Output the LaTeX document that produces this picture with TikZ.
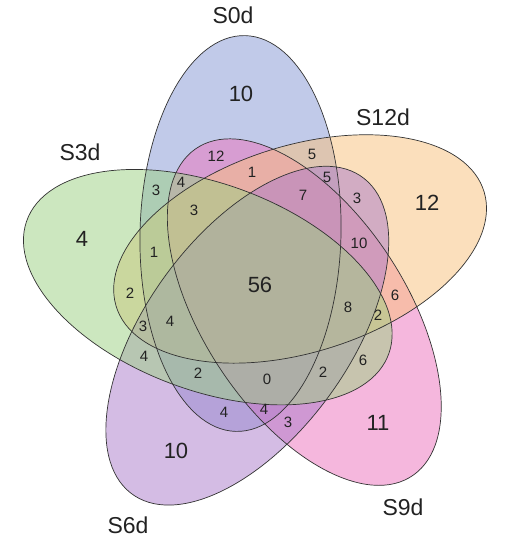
\documentclass[tikz,border=0pt]{standalone}
\usepackage{fontspec}
\setmainfont{Liberation Sans}
\definecolor{cblue}{RGB}{133,151,213}
\definecolor{corange}{RGB}{249,193,123}
\definecolor{cpink}{RGB}{237,113,189}
\definecolor{cpurple}{RGB}{171,123,203}
\definecolor{cgreen}{RGB}{155,209,129}
\definecolor{ctext}{RGB}{34,34,34}
\begin{document}
\begin{tikzpicture}[x=1pt,y=-1pt,
  setfill/.style={fill=#1, fill opacity=0.5},
  setline/.style={draw=black!80, line width=0.7pt},
  sm/.style={text=ctext, font=\fontsize{15}{15}\selectfont, inner sep=0pt},
  big/.style={text=ctext, font=\fontsize{22}{22}\selectfont, inner sep=0pt},
  setname/.style={text=ctext, font=\fontsize{23}{23}\selectfont, inner sep=0pt}]
\useasboundingbox (0,0) rectangle (522,541);
\fill[white] (0,0) rectangle (522,541);
\begin{scope}[yscale=1.03]
  % fills
  \begin{scope}[shift={(240.5,226.7)}, rotate=88.6]
    \fill[setfill=cblue] (0,0) ellipse [x radius=192.2, y radius=100.5];
  \end{scope}
  \begin{scope}[shift={(304.3,303.0)}, rotate=-55.4]
    \fill[setfill=cpink] (0,0) ellipse [x radius=192.2, y radius=100.5];
  \end{scope}
  \begin{scope}[shift={(300.1,241.7)}, rotate=16.6]
    \fill[setfill=corange] (0,0) ellipse [x radius=192.2, y radius=100.5];
  \end{scope}
  \begin{scope}[shift={(247.3,325.9)}, rotate=52.6]
    \fill[setfill=cpurple] (0,0) ellipse [x radius=192.2, y radius=100.5];
  \end{scope}
  \begin{scope}[shift={(207.8,278.8)}, rotate=160.6]
    \fill[setfill=cgreen] (0,0) ellipse [x radius=192.2, y radius=100.5];
  \end{scope}
  % outlines
  \begin{scope}[shift={(240.5,226.7)}, rotate=88.6]
    \draw[setline] (0,0) ellipse [x radius=192.2, y radius=100.5];
  \end{scope}
  \begin{scope}[shift={(304.3,303.0)}, rotate=-55.4]
    \draw[setline] (0,0) ellipse [x radius=192.2, y radius=100.5];
  \end{scope}
  \begin{scope}[shift={(300.1,241.7)}, rotate=16.6]
    \draw[setline] (0,0) ellipse [x radius=192.2, y radius=100.5];
  \end{scope}
  \begin{scope}[shift={(247.3,325.9)}, rotate=52.6]
    \draw[setline] (0,0) ellipse [x radius=192.2, y radius=100.5];
  \end{scope}
  \begin{scope}[shift={(207.8,278.8)}, rotate=160.6]
    \draw[setline] (0,0) ellipse [x radius=192.2, y radius=100.5];
  \end{scope}
\end{scope}
% set names
\node[setname] (nS0) at (233,15) {S0d};
\node[setname] (nS12) at (383,117) {S12d};
\node[setname] (nS9) at (403,507) {S9d};
\node[setname] (nS6) at (128,525) {S6d};
\node[setname] (nS3) at (80,152) {S3d};
% outer counts
\node[big] (b0) at (241,94) {10};
\node[big] (b12) at (427,203) {12};
\node[big] (b9) at (378,423) {11};
\node[big] (b6) at (176,451) {10};
\node[big] (b3) at (82,239) {4};
\node[big] (c56) at (260,285) {56};
% inner counts
\node[sm] (r01) at (216,156) {12};
\node[sm] (r02) at (252,172) {1};
\node[sm] (r03) at (156,190) {3};
\node[sm] (r04) at (181,182) {4};
\node[sm] (r05) at (194,210) {3};
\node[sm] (r06) at (154,252) {1};
\node[sm] (r07) at (312,154) {5};
\node[sm] (r08) at (327,177) {5};
\node[sm] (r09) at (303,195) {7};
\node[sm] (r10) at (357,198) {3};
\node[sm] (r11) at (359,243) {10};
\node[sm] (r12) at (395,295) {6};
\node[sm] (r13) at (348,307) {8};
\node[sm] (r14) at (378,315) {2};
\node[sm] (r15) at (130,293) {2};
\node[sm] (r16) at (143,326) {3};
\node[sm] (r17) at (170,321) {4};
\node[sm] (r18) at (144,356) {4};
\node[sm] (r19) at (198,373) {2};
\node[sm] (r20) at (267,379) {0};
\node[sm] (r21) at (224,412) {4};
\node[sm] (r22) at (264,409) {4};
\node[sm] (r23) at (288,422) {3};
\node[sm] (r24) at (323,372) {2};
\node[sm] (r25) at (363,360) {6};
\end{tikzpicture}
\end{document}
